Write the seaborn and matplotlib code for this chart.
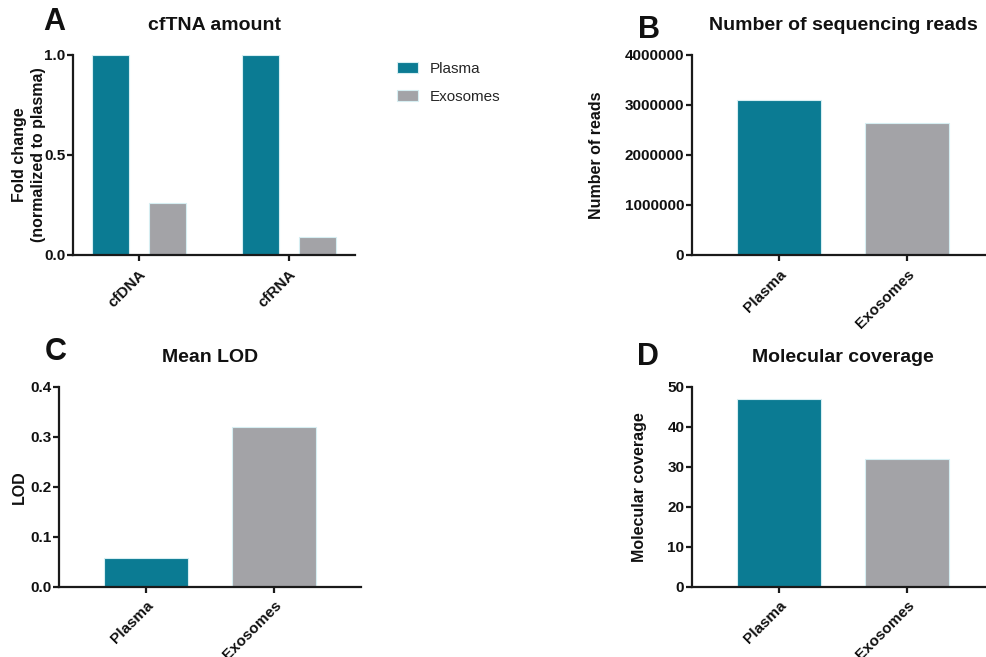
import matplotlib
matplotlib.use("Agg")
import matplotlib.pyplot as plt
import pandas as pd
import seaborn as sns

# data
SAMPLES = ["Plasma", "Exosomes"]
NUC_TYPES = ["cfDNA", "cfRNA"]
FOLD_PLASMA = [1.0, 1.0]
FOLD_EXO = [0.26, 0.09]
READS = [3100000, 2650000]
LOD = [0.057, 0.32]
COVERAGE = [47, 32]

TEAL = "#0b7b93"
GRAY = "#a3a3a7"
EDGE = "#d6eef2"

sns.set_theme(style="ticks")
plt.rcParams["font.family"] = ["Liberation Sans", "DejaVu Sans"]
plt.rcParams["axes.linewidth"] = 1.6
plt.rcParams["xtick.major.width"] = 1.6
plt.rcParams["ytick.major.width"] = 1.6
plt.rcParams["xtick.major.size"] = 4.5
plt.rcParams["ytick.major.size"] = 4.5
plt.rcParams["axes.edgecolor"] = "#1a1a1a"

W, H = 986, 657
fig = plt.figure(figsize=(W / 100, H / 100), dpi=100)


def box(left, top, width, height):
    return [left / W, (H - top - height) / H, width / W, height / H]


def style(ax, title, ylabel, yticks, fmt, label_x):
    sns.despine(ax=ax)
    ax.set_title(title, fontsize=14, fontweight="bold", pad=18, color="#111111")
    ax.set_xlabel("")
    ax.set_ylabel(ylabel, fontsize=11.5, fontweight="bold", color="#111111")
    ax.yaxis.label.set_linespacing(1.35)
    ax.yaxis.set_label_coords(label_x, 0.5)
    ax.set_ylim(yticks[0], yticks[-1])
    ax.set_yticks(yticks)
    ax.set_yticklabels([fmt(v) for v in yticks], fontsize=11, fontweight="bold")
    for lab in ax.get_xticklabels():
        lab.set_rotation(45)
        lab.set_ha("right")
        lab.set_rotation_mode("anchor")
        lab.set_fontsize(11)
        lab.set_fontweight("bold")
    ax.tick_params(axis="x", pad=4)
    ax.tick_params(axis="y", pad=1)
    ax.tick_params(colors="#1a1a1a", labelcolor="#111111")


# A: cfTNA amount
df_a = pd.DataFrame({
    "type": NUC_TYPES * 2,
    "sample": [SAMPLES[0]] * 2 + [SAMPLES[1]] * 2,
    "fold": FOLD_PLASMA + FOLD_EXO,
})
ax_a = fig.add_axes(box(73, 55, 282, 200))
sns.barplot(data=df_a, x="type", y="fold", hue="sample", order=NUC_TYPES,
            hue_order=SAMPLES, palette=[TEAL, GRAY], saturation=1, width=0.75,
            gap=0.34, edgecolor=EDGE, linewidth=0.8, ax=ax_a)
ax_a.set_xlim(-0.44, 1.44)
style(ax_a, "cfTNA amount", "Fold change\n(normalized to plasma)",
      [0, 0.5, 1.0], lambda v: f"{v:.1f}", -0.095)
sns.move_legend(ax_a, loc="upper left", bbox_to_anchor=(1.15, 0.965), frameon=False,
                title=None, fontsize=11, handlelength=1.35, handleheight=0.75,
                handletextpad=0.75, labelspacing=0.9, borderpad=0,
                borderaxespad=0)

# B: number of reads
ax_b = fig.add_axes(box(692, 55, 302, 200))
sns.barplot(x=SAMPLES, y=READS, hue=SAMPLES, palette=[TEAL, GRAY], saturation=1,
            width=0.66, edgecolor=EDGE, linewidth=0.8, legend=False, ax=ax_b)
ax_b.set_xlim(-0.68, 1.68)
style(ax_b, "Number of sequencing reads", "Number of reads",
      [0, 1000000, 2000000, 3000000, 4000000], lambda v: f"{int(v)}", -0.29)

# C: mean LOD
ax_c = fig.add_axes(box(59, 386.7, 302, 200))
sns.barplot(x=SAMPLES, y=LOD, hue=SAMPLES, palette=[TEAL, GRAY], saturation=1,
            width=0.66, edgecolor=EDGE, linewidth=0.8, legend=False, ax=ax_c)
ax_c.set_xlim(-0.68, 1.68)
style(ax_c, "Mean LOD", "LOD", [0, 0.1, 0.2, 0.3, 0.4],
      lambda v: f"{v:.1f}", -0.105)

# D: molecular coverage
ax_d = fig.add_axes(box(692, 386.7, 302, 200))
sns.barplot(x=SAMPLES, y=COVERAGE, hue=SAMPLES, palette=[TEAL, GRAY], saturation=1,
            width=0.66, edgecolor=EDGE, linewidth=0.8, legend=False, ax=ax_d)
ax_d.set_xlim(-0.68, 1.68)
style(ax_d, "Molecular coverage", "Molecular coverage", [0, 10, 20, 30, 40, 50],
      lambda v: f"{int(v)}", -0.15)

# panel letters
for letter, x, y in [("A", 43, 22), ("B", 638, 30), ("C", 45, 352), ("D", 637, 357)]:
    fig.text(x / W, 1 - y / H, letter, fontsize=22, fontweight="bold",
             ha="left", va="center", color="#111111")

fig.savefig("out.png", dpi=100)
